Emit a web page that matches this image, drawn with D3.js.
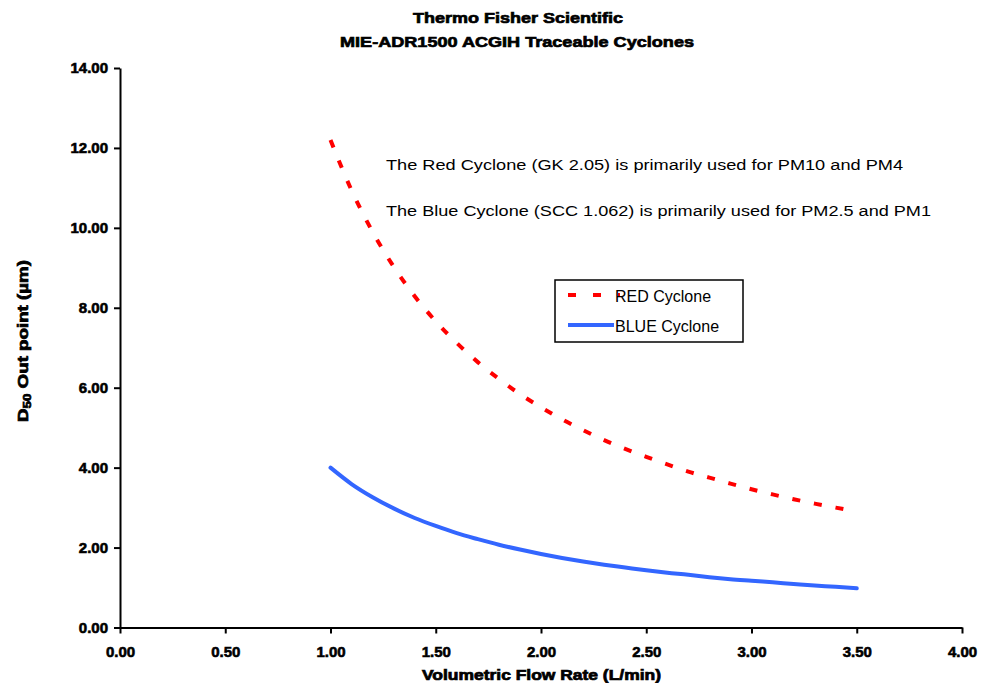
<!DOCTYPE html>
<html>
<head>
<meta charset="utf-8">
<script src="https://cdn.jsdelivr.net/npm/d3@7"></script>
<style>
  body { margin: 0; background: #fff; }
  svg { display: block; font-family: "Liberation Sans", Arial, sans-serif; }
  .tick text { font-weight: bold; font-size: 15px; fill: #000; stroke: #000; stroke-width: 0.6px; }
  .heavy { font-weight: bold; fill: #000; stroke: #000; stroke-width: 0.7px; }
</style>
</head>
<body>
<svg width="991" height="683"></svg>
<script>
// flow rate (L/min) and D50 cut point (um)
const flowRate = [1.0, 1.1, 1.2, 1.3, 1.4, 1.5, 1.6, 1.7, 1.8, 1.9, 2.0, 2.1, 2.2,
  2.3, 2.4, 2.5, 2.6, 2.7, 2.8, 2.9, 3.0, 3.1, 3.2, 3.3, 3.4, 3.5];
const redCyclone = [12.2, 10.94, 9.90, 9.03, 8.29, 7.66, 7.12, 6.64, 6.22, 5.84, 5.51,
  5.21, 4.94, 4.69, 4.47, 4.27, 4.08, 3.90, 3.75, 3.60, 3.46, 3.33, 3.21, 3.10, 3.00, 2.90];
const blueCyclone = [4.0, 3.59, 3.26, 2.98, 2.74, 2.54, 2.36, 2.21, 2.07, 1.95, 1.84,
  1.74, 1.65, 1.57, 1.50, 1.43, 1.37, 1.32, 1.26, 1.21, 1.17, 1.13, 1.09, 1.05, 1.02, 0.98];
const xTicks = [0, 0.5, 1, 1.5, 2, 2.5, 3, 3.5, 4];
const yTicks = [0, 2, 4, 6, 8, 10, 12, 14];
const seriesNames = ["RED Cyclone", "BLUE Cyclone"];
const notes = [
  "The Red Cyclone (GK 2.05) is primarily used for PM10 and PM4",
  "The Blue Cyclone (SCC 1.062) is primarily used for PM2.5 and PM1"
];

const svg = d3.select("svg");
const plotLeft = 120, plotRight = 962, plotTop = 68, plotBottom = 627.5;

const x = d3.scaleLinear().domain([0, 4]).range([plotLeft, plotRight]);
const y = d3.scaleLinear().domain([0, 14]).range([plotBottom, plotTop]);

// title
svg.append("text").attr("class", "heavy").attr("x", 413).attr("y", 23)
  .attr("font-size", 15).attr("textLength", 210).attr("lengthAdjust", "spacingAndGlyphs")
  .text("Thermo Fisher Scientific");
svg.append("text").attr("class", "heavy").attr("x", 340).attr("y", 47)
  .attr("font-size", 15).attr("textLength", 354).attr("lengthAdjust", "spacingAndGlyphs")
  .text("MIE-ADR1500 ACGIH Traceable Cyclones");

// axes
const xAxis = svg.append("g").attr("transform", `translate(0,${plotBottom})`)
  .call(d3.axisBottom(x).tickValues(xTicks).tickFormat(d3.format(".2f")).tickSize(6).tickSizeOuter(0));
const yAxis = svg.append("g").attr("transform", `translate(${plotLeft},0)`)
  .call(d3.axisLeft(y).tickValues(yTicks).tickFormat(d3.format(".2f")).tickSize(6).tickSizeOuter(0));
[xAxis, yAxis].forEach(a => {
  a.select(".domain").attr("stroke", "#000").attr("stroke-width", 2);
  a.selectAll(".tick line").attr("stroke", "#000").attr("stroke-width", 2);
});
xAxis.selectAll(".tick text").attr("y", 19);
yAxis.selectAll(".tick text").attr("x", -12);

// axis titles
svg.append("text").attr("class", "heavy").attr("x", 422).attr("y", 680)
  .attr("font-size", 14).attr("textLength", 239).attr("lengthAdjust", "spacingAndGlyphs")
  .text("Volumetric Flow Rate (L/min)");
const yl = svg.append("text").attr("class", "heavy")
  .attr("transform", "translate(28,422) rotate(-90)").attr("font-size", 14)
  .attr("textLength", 162).attr("lengthAdjust", "spacingAndGlyphs");
yl.append("tspan").text("D");
yl.append("tspan").attr("font-size", 10).attr("dy", 3).text("50");
yl.append("tspan").attr("dy", -3).text(" Out point (µm)");

// curves
const line = d3.line().x(d => x(d[0])).y(d => y(d[1])).curve(d3.curveMonotoneX);
svg.append("path").datum(d3.zip(flowRate, redCyclone))
  .attr("d", line).attr("fill", "none").attr("stroke", "#ff0000")
  .attr("stroke-width", 4).attr("stroke-dasharray", "8,14");
svg.append("path").datum(d3.zip(flowRate, blueCyclone))
  .attr("d", line).attr("fill", "none").attr("stroke", "#3366ff")
  .attr("stroke-width", 4).attr("stroke-linecap", "round");

// notes
notes.forEach((t, i) => {
  svg.append("text").attr("x", 386).attr("y", 170 + i * 46)
    .attr("font-size", 15.5).attr("textLength", i === 0 ? 517 : 545)
    .attr("lengthAdjust", "spacingAndGlyphs").text(t);
});

// legend
const lg = svg.append("g").attr("transform", "translate(555,280)");
lg.append("rect").attr("width", 188).attr("height", 62)
  .attr("fill", "#fff").attr("stroke", "#000").attr("stroke-width", 1.5);
lg.append("line").attr("x1", 13).attr("x2", 65).attr("y1", 15).attr("y2", 15)
  .attr("stroke", "#ff0000").attr("stroke-width", 4).attr("stroke-dasharray", "8,17");
lg.append("line").attr("x1", 13).attr("x2", 59).attr("y1", 45).attr("y2", 45)
  .attr("stroke", "#3366ff").attr("stroke-width", 4);
seriesNames.forEach((n, i) => {
  lg.append("text").attr("x", 60).attr("y", 22 + i * 30).attr("font-size", 16).text(n);
});
</script>
</body>
</html>
